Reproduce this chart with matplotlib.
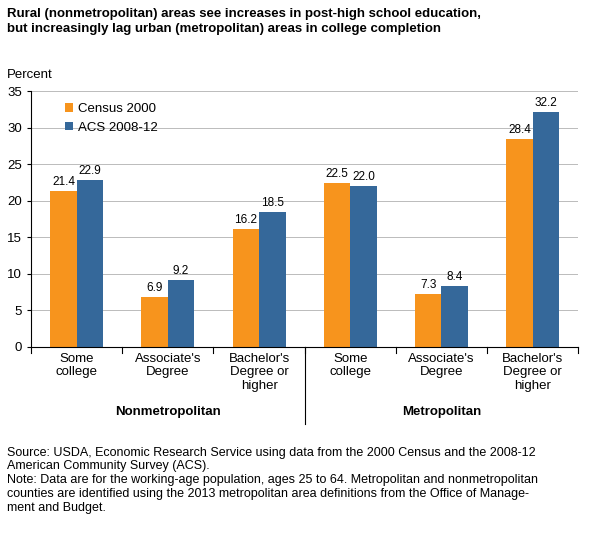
import numpy as np
import matplotlib.pyplot as plt

categories = ["Some\ncollege", "Associate's\nDegree", "Bachelor's\nDegree or\nhigher"] * 2
groups = ["Nonmetropolitan", "Metropolitan"]
census_2000 = [21.4, 6.9, 16.2, 22.5, 7.3, 28.4]
acs_2008 = [22.9, 9.2, 18.5, 22.0, 8.4, 32.2]

ORANGE = "#F7941D"
BLUE = "#35689A"

plt.rcParams["font.family"] = ["Liberation Sans", "DejaVu Sans"]
fig = plt.figure(figsize=(5.98, 5.33), dpi=100)
ax = fig.add_axes([0.052, 0.349, 0.915, 0.480])

x = np.arange(len(categories))
w = 0.29
b1 = ax.bar(x - w / 2, census_2000, w, color=ORANGE, label="Census 2000")
b2 = ax.bar(x + w / 2, acs_2008, w, color=BLUE, label="ACS 2008-12")
for bars in (b1, b2):
    for bar in bars:
        ax.text(bar.get_x() + bar.get_width() / 2, bar.get_height() + 0.4,
                f"{bar.get_height():.1f}", ha="center", va="bottom", fontsize=8.5)

ax.set_xlim(-0.5, 5.5)
ax.set_ylim(0, 35)
ax.set_yticks(range(0, 36, 5))
ax.tick_params(axis="y", labelsize=9.5, length=3)
ax.set_xticks(x)
ax.set_xticklabels(categories, fontsize=9.5)
ax.tick_params(axis="x", length=0, pad=4)
ax.grid(axis="y", color="#bbbbbb", linewidth=0.7)
ax.set_axisbelow(True)
for s in ("top", "right"):
    ax.spines[s].set_visible(False)

# separators between categories / groups
for xs in np.arange(-0.5, 6, 1.0):
    ax.plot([xs, xs], [0, -0.8], color="black", lw=0.8, clip_on=False)
ax.plot([2.5, 2.5], [0, -10.5], color="black", lw=0.8, clip_on=False)
ax.text(1, -8.9, groups[0], ha="center", va="center", fontsize=9.5, fontweight="bold")
ax.text(4, -8.9, groups[1], ha="center", va="center", fontsize=9.5, fontweight="bold")

ax.legend(loc="upper left", bbox_to_anchor=(0.04, 1.0), frameon=False, fontsize=9.5,
          handlelength=0.6, handleheight=0.6, labelspacing=0.5, handletextpad=0.4)

fig.text(0.012, 0.985, "Rural (nonmetropolitan) areas see increases in post-high school education,\n"
         "but increasingly lag urban (metropolitan) areas in college completion",
         ha="left", va="top", fontsize=9.5, fontweight="bold", linespacing=1.3)
fig.text(0.012, 0.87, "Percent", ha="left", va="top", fontsize=9.5)
fig.text(0.012, 0.162,
         "Source: USDA, Economic Research Service using data from the 2000 Census and the 2008-12\n"
         "American Community Survey (ACS).\n"
         "Note: Data are for the working-age population, ages 25 to 64. Metropolitan and nonmetropolitan\n"
         "counties are identified using the 2013 metropolitan area definitions from the Office of Manage-\n"
         "ment and Budget.",
         ha="left", va="top", fontsize=9, linespacing=1.2)

fig.savefig("out.png", dpi=100)
